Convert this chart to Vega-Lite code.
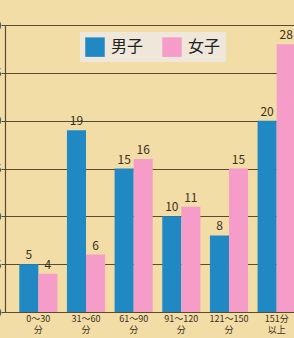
{
  "$schema": "https://vega.github.io/schema/vega-lite/v6.json",
  "autosize": "none",
  "width": 305,
  "height": 287,
  "padding": {"left": 5, "top": 25, "right": 0, "bottom": 26},
  "background": "#f2dda6",
  "config": {"view": {"stroke": null}, "font": "Noto Sans CJK JP"},
  "data": {"values": [
    {"t": "0～30\n分", "g": "男子", "v": 5},
    {"t": "0～30\n分", "g": "女子", "v": 4},
    {"t": "31～60\n分", "g": "男子", "v": 19},
    {"t": "31～60\n分", "g": "女子", "v": 6},
    {"t": "61～90\n分", "g": "男子", "v": 15},
    {"t": "61～90\n分", "g": "女子", "v": 16},
    {"t": "91～120\n分", "g": "男子", "v": 10},
    {"t": "91～120\n分", "g": "女子", "v": 11},
    {"t": "121～150\n分", "g": "男子", "v": 8},
    {"t": "121～150\n分", "g": "女子", "v": 15},
    {"t": "151分\n以上", "g": "男子", "v": 20},
    {"t": "151分\n以上", "g": "女子", "v": 28}
  ]},
  "encoding": {
    "x": {"field": "t", "type": "nominal", "sort": null, "title": null,
      "scale": {"paddingInner": 0.2, "paddingOuter": 0.3},
      "axis": {"labelAngle": 0, "labelExpr": "split(datum.label, '\\n')", "labelFontSize": 9, "labelColor": "#3a2f20", "ticks": false, "domainColor": "#5a4a30", "domainWidth": 1.2, "labelPadding": 2, "labelLineHeight": 11}},
    "xOffset": {"field": "g", "type": "nominal", "sort": ["男子", "女子"]},
    "y": {"field": "v", "type": "quantitative", "title": null,
      "scale": {"domain": [0, 30]},
      "axis": {"values": [0, 5, 10, 15, 20, 25, 30], "gridColor": "#5a4a30", "gridWidth": 1.1, "gridOpacity": 1, "domainColor": "#5a4a30", "domainWidth": 1.2, "tickColor": "#5a4a30", "tickSize": 4, "labelFontSize": 12, "labelPadding": 0, "labelColor": "#3a2f20"}}
  },
  "layer": [
    {"mark": {"type": "bar"},
     "encoding": {"color": {"field": "g", "type": "nominal", "sort": ["男子", "女子"],
       "scale": {"domain": ["男子", "女子"], "range": ["#2089c4", "#f59cc9"]},
       "legend": {"title": null, "orient": "none", "legendX": 75, "legendY": 7, "direction": "horizontal", "fillColor": "#efe8da", "padding": 5, "symbolType": "square", "symbolSize": 380, "symbolStrokeWidth": 0, "symbolOpacity": 1, "labelFontSize": 16, "labelColor": "#222222", "columnPadding": 18, "labelOffset": 6}}}},
    {"mark": {"type": "text", "dy": -9, "fontSize": 12, "color": "#3a2f20"},
     "encoding": {"text": {"field": "v", "type": "quantitative"}}}
  ]
}
